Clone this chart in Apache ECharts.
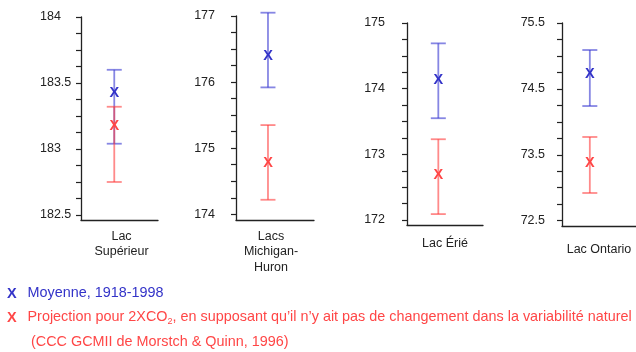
<!DOCTYPE html>
<html>
<head>
<meta charset="utf-8">
<script src="https://cdn.jsdelivr.net/npm/echarts@6/dist/echarts.min.js"></script>
<style>
  html, body { margin: 0; padding: 0; background: #fff; }
  #chart { width: 636px; height: 352px; }
</style>
</head>
<body>
<div id="chart"></div>
<script>
// Great Lakes water levels (m): 1918-1998 mean vs. 2xCO2 projection, with ranges
const lakes = ['Lac\nSupérieur', 'Lacs\nMichigan-\nHuron', 'Lac Érié', 'Lac Ontario'];

const meanLevel = [183.43, 176.41, 174.14, 74.73];
const meanLow   = [183.04, 175.92, 173.55, 74.24];
const meanHigh  = [183.60, 177.05, 174.69, 75.09];

const projLevel = [183.18, 174.78, 172.69, 73.39];
const projLow   = [182.75, 174.22, 172.09, 72.92];
const projHigh  = [183.32, 175.35, 173.23, 73.77];

// Labelled values on each lake's level axis
const axisLabels = [
  [182.5, 183, 183.5, 184],
  [174, 175, 176, 177],
  [172, 173, 174, 175],
  [72.5, 73.5, 74.5, 75.5]
];
// Minor tick step on each axis
const tickSteps = [0.125, 0.25, 0.25, 0.25];

// Panel layout (pixels) and axis extents
const panels = [
  { left: 81,  top: 17, width: 77, height: 203, yMin: 182.462, yMax: 184,  bar: 0.432, labAlign: 'left',  labMargin: 41, nameGap: 8.5, namePad: [0, 0, 0, 4] },
  { left: 236, top: 16, width: 78, height: 204, yMin: 173.914, yMax: 177,  bar: 0.41,  labAlign: 'right', labMargin: 21, nameGap: 8.5, namePad: [0, 8, 0, 0] },
  { left: 407, top: 23, width: 76, height: 202, yMin: 171.924, yMax: 175,  bar: 0.412, labAlign: 'right', labMargin: 22, nameGap: 11,  namePad: [0, 0, 0, 0] },
  { left: 562, top: 23, width: 86, height: 203, yMin: 72.419,  yMax: 75.5, bar: 0.376, labAlign: 'right', labMargin: 17, nameGap: 16,  namePad: [0, 0, 0, 0] }
];

const FONT = '"Liberation Sans", Arial, Helvetica, sans-serif';
const BLUE = '#3333c8';
const BLUE_LINE = 'rgba(60, 60, 210, 0.62)';
const RED = '#ff4646';
const RED_LINE = 'rgba(255, 60, 60, 0.6)';

function ticksFor(i) {
  const labs = axisLabels[i];
  const lo = labs[0], hi = labs[labs.length - 1], step = tickSteps[i];
  const out = [];
  const n = Math.round((hi - lo) / step);
  for (let k = 0; k <= n; k++) out.push(+(lo + k * step).toFixed(4));
  return out;
}

function errorBar(markColor, lineColor) {
  return function (params, api) {
    const x = api.value(0);
    const top = api.coord([x, api.value(3)]);
    const bot = api.coord([x, api.value(2)]);
    const mid = api.coord([x, api.value(1)]);
    const half = 7.5;
    const ls = { stroke: lineColor, lineWidth: 1.8 };
    return {
      type: 'group',
      children: [
        { type: 'line', shape: { x1: top[0], y1: top[1], x2: bot[0], y2: bot[1] }, style: ls },
        { type: 'line', shape: { x1: top[0] - half, y1: top[1], x2: top[0] + half, y2: top[1] }, style: ls },
        { type: 'line', shape: { x1: bot[0] - half, y1: bot[1], x2: bot[0] + half, y2: bot[1] }, style: ls },
        { type: 'text', x: mid[0], y: mid[1] + 0.5,
          style: { text: 'X', fill: markColor, font: 'bold 14.5px ' + FONT, align: 'center', verticalAlign: 'middle' } }
      ]
    };
  };
}

const grid = [], xAxis = [], yAxis = [], series = [];
panels.forEach((p, i) => {
  grid.push({ left: p.left, top: p.top, width: p.width, height: p.height });
  xAxis.push({
    gridIndex: i, type: 'value', min: -p.bar, max: 1 - p.bar,
    name: lakes[i], nameLocation: 'middle', nameGap: p.nameGap,
    nameTextStyle: { color: '#222', fontSize: 12.5, fontFamily: FONT, lineHeight: 15.5, padding: p.namePad },
    axisLine: { show: true, onZero: false, lineStyle: { color: '#222', width: 1.3 } },
    axisTick: { show: false }, axisLabel: { show: false }, splitLine: { show: false }
  });
  yAxis.push({
    gridIndex: i, type: 'value', min: p.yMin, max: p.yMax,
    axisLine: { show: true, onZero: false, lineStyle: { color: '#222', width: 1.3 } },
    axisTick: { show: true, length: 5, inside: false, customValues: ticksFor(i), lineStyle: { color: '#222', width: 1.2 } },
    axisLabel: {
      show: true, customValues: axisLabels[i], color: '#222', fontSize: 12.5, fontFamily: FONT,
      align: p.labAlign, margin: p.labMargin
    },
    splitLine: { show: false }
  });
  series.push({
    type: 'custom', xAxisIndex: i, yAxisIndex: i, clip: false, z: 3,
    renderItem: errorBar(BLUE, BLUE_LINE),
    data: [[0, meanLevel[i], meanLow[i], meanHigh[i]]]
  });
  series.push({
    type: 'custom', xAxisIndex: i, yAxisIndex: i, clip: false, z: 4,
    renderItem: errorBar(RED, RED_LINE),
    data: [[0, projLevel[i], projLow[i], projHigh[i]]]
  });
});

const legendRich = (color) => ({
  x: { color: color, fontSize: 14.5, fontWeight: 'bold', fontFamily: FONT, width: 20.5, lineHeight: 17 },
  t: { color: color, fontSize: 14.4, fontWeight: 'normal', fontFamily: FONT, lineHeight: 17 },
  s: { color: color, fontSize: 9, fontWeight: 'normal', fontFamily: FONT, lineHeight: 9, verticalAlign: 'bottom' }
});

const chart = echarts.init(document.getElementById('chart'), null, { renderer: 'canvas' });
chart.setOption({
  animation: false,
  backgroundColor: '#fff',
  grid, xAxis, yAxis, series,
  title: [
    { left: 7, top: 285, padding: 0, text: '{x|X}{t|Moyenne, 1918-1998}',
      textStyle: { fontWeight: 'normal', rich: legendRich(BLUE) } },
    { left: 7, top: 309, padding: 0,
      text: '{x|X}{t|Projection pour 2XCO}{s|2}{t|, en supposant qu’il n’y ait pas de changement dans la variabilité naturel}',
      textStyle: { fontWeight: 'normal', rich: legendRich(RED) } },
    { left: 31, top: 334, padding: 0, text: '{t|(CCC GCMII de Morstch & Quinn, 1996)}',
      textStyle: { fontWeight: 'normal', rich: legendRich(RED) } }
  ]
});
</script>
</body>
</html>
